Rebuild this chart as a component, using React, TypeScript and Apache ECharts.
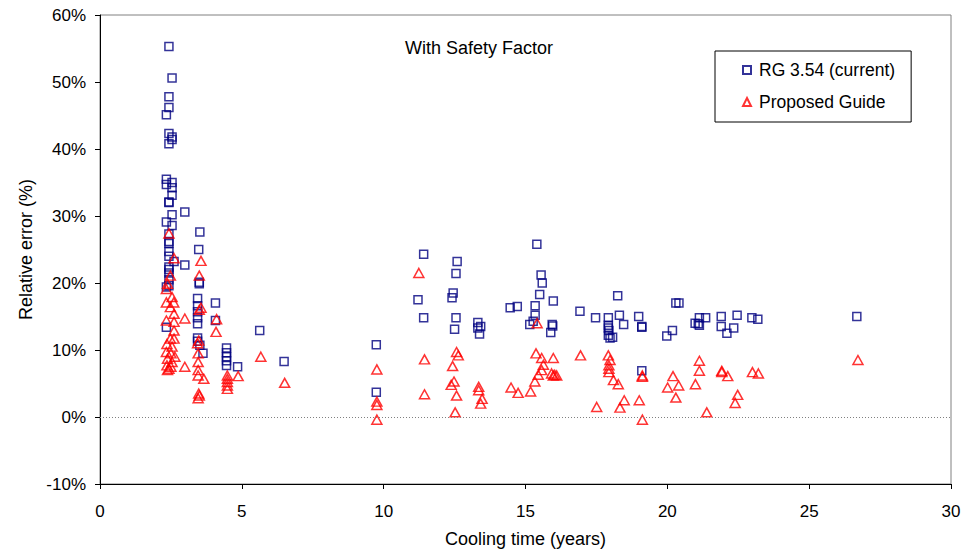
import React, { useEffect, useRef } from "react";
import * as echarts from "echarts";

const xTicks = [0, 5, 10, 15, 20, 25, 30];
const yTicks = [-10, 0, 10, 20, 30, 40, 50, 60];
const seriesNames = ["RG 3.54 (current)", "Proposed Guide"];
const chartTitle = "With Safety Factor";

const rgCurrent: [number, number][] = [
  [2.43, 55.3], [2.54, 50.6], [2.43, 47.8], [2.43, 46.2], [2.34, 45.1], [2.43, 42.3],
  [2.54, 41.8], [2.54, 41.4], [2.43, 40.8], [2.34, 35.5], [2.34, 34.7], [2.54, 35.0],
  [2.54, 34.2], [2.54, 33.1], [2.43, 32.1], [2.43, 32.0], [2.99, 30.6], [2.54, 30.2],
  [2.34, 29.1], [2.54, 28.6], [3.52, 27.6], [2.43, 27.3], [2.43, 26.2], [2.43, 25.9],
  [2.43, 24.7], [2.43, 24.0], [3.48, 25.0], [2.99, 22.7], [2.61, 23.2], [2.43, 22.4],
  [2.43, 22.0], [2.43, 21.5], [2.43, 20.5], [2.34, 19.4], [2.43, 19.6], [3.5, 20.1],
  [3.5, 19.9], [3.44, 17.7], [4.07, 17.0], [3.44, 16.6], [3.44, 15.7], [3.44, 14.8],
  [4.07, 14.4], [3.44, 13.9], [2.34, 13.4], [5.63, 12.9], [3.44, 11.8], [3.44, 11.3],
  [3.52, 10.7], [3.63, 9.5], [4.46, 10.3], [4.46, 9.6], [4.46, 9.0], [4.46, 8.4],
  [4.46, 7.7], [4.85, 7.5], [6.49, 8.3],
  [9.74, 10.8], [9.74, 3.7], [11.21, 17.5], [11.41, 24.3], [11.41, 14.8], [12.59, 23.2],
  [12.55, 21.4], [12.45, 18.5], [12.41, 17.8], [12.55, 14.8], [12.5, 13.1], [13.32, 14.1],
  [13.42, 13.5], [13.32, 13.3], [13.38, 12.4], [14.46, 16.3], [14.71, 16.5], [15.15, 13.8],
  [15.27, 14.3], [15.4, 25.8], [15.55, 21.2], [15.59, 20.0], [15.5, 18.3], [15.98, 17.3],
  [15.34, 16.6], [15.34, 15.2], [15.94, 13.8], [15.96, 13.6], [15.89, 12.6], [16.92, 15.8],
  [17.47, 14.8], [17.92, 14.8], [17.92, 13.7], [17.92, 13.3], [17.94, 12.9], [17.92, 12.2],
  [17.98, 11.8], [18.07, 11.9], [18.25, 18.1], [18.31, 15.2], [18.46, 13.8], [18.99, 15.0],
  [19.1, 13.5], [19.1, 13.4], [19.1, 6.9], [19.98, 12.1], [20.18, 12.9], [20.3, 17.0],
  [20.41, 17.0], [20.98, 14.0], [21.09, 13.9], [21.13, 14.8], [21.13, 13.7], [21.35, 14.8],
  [21.9, 15.0], [21.9, 13.5], [22.1, 12.5], [22.34, 13.3], [22.46, 15.2], [22.98, 14.8],
  [23.19, 14.6], [26.68, 15.0],
];

const proposedGuide: [number, number][] = [
  [2.43, 27.4], [2.61, 23.7], [2.48, 21.1], [2.38, 19.9], [2.34, 19.1], [2.54, 17.9],
  [2.34, 17.1], [2.6, 17.1], [2.48, 16.4], [2.61, 15.4], [2.34, 14.4], [2.61, 14.2],
  [2.61, 12.9], [2.48, 11.7], [2.61, 11.7], [2.36, 10.9], [2.54, 10.5], [2.34, 9.7],
  [2.5, 9.5], [2.64, 9.0], [2.38, 8.7], [2.54, 8.2], [2.36, 7.7], [2.43, 7.2],
  [2.38, 7.0], [2.5, 7.5],
  [2.99, 14.7], [2.99, 7.5],
  [3.56, 23.3], [3.5, 21.1], [3.56, 16.3], [3.5, 16.0], [3.48, 11.4], [3.44, 11.0],
  [3.46, 9.5], [3.46, 8.2], [3.46, 7.0], [3.46, 6.2], [3.66, 5.7], [3.48, 3.5],
  [3.46, 2.8], [3.5, 3.2],
  [4.11, 14.6], [4.09, 12.7],
  [4.49, 6.2], [4.49, 5.7], [4.49, 5.2], [4.49, 4.7], [4.49, 4.2],
  [4.87, 6.1], [5.67, 9.0], [6.51, 5.1],
  [9.76, 7.1], [9.76, 2.3], [9.76, 1.8], [9.76, -0.4],
  [11.24, 21.5], [11.44, 8.6], [11.44, 3.4],
  [12.57, 9.7], [12.63, 9.2], [12.43, 7.6], [12.48, 5.3], [12.38, 4.8], [12.57, 3.2], [12.52, 0.7],
  [13.35, 4.5], [13.35, 4.0], [13.47, 2.7], [13.42, 2.0],
  [14.49, 4.4], [14.74, 3.6], [15.18, 3.8],
  [15.41, 14.0], [15.37, 9.5], [15.57, 8.8], [15.63, 7.8], [15.57, 7.0], [15.45, 6.3],
  [15.33, 5.3], [15.98, 8.8], [15.92, 6.5], [15.98, 6.2], [16.1, 6.2], [16.03, 6.3],
  [16.94, 9.2], [17.51, 1.5],
  [17.92, 9.2], [17.98, 8.5], [17.94, 7.7], [17.94, 7.2], [17.94, 6.7], [18.1, 5.5],
  [18.27, 4.9], [18.48, 2.5], [18.33, 1.4],
  [19.01, 2.5], [19.12, 6.2], [19.12, 6.0], [19.12, -0.4],
  [20.2, 6.1], [20.01, 4.4], [20.4, 4.7], [20.3, 2.9],
  [20.99, 4.9], [21.13, 8.4], [21.13, 6.9],
  [21.92, 6.9], [21.92, 6.7], [22.13, 6.1], [23.0, 6.7], [23.21, 6.5],
  [22.48, 3.3], [22.39, 2.1], [21.39, 0.7], [26.72, 8.5],
];

const FONT = "'Liberation Sans', Arial, sans-serif";

export default function App() {
  const ref = useRef<HTMLDivElement>(null);
  useEffect(() => {
    if (!ref.current) return;
    const chart = echarts.init(ref.current, undefined, { renderer: "svg" });
    chart.setOption({
      animation: false,
      backgroundColor: "#ffffff",
      textStyle: { fontFamily: FONT },
      title: {
        text: chartTitle,
        left: 474,
        top: 34,
        textAlign: "center",
        textStyle: { fontFamily: FONT, fontSize: 18, fontWeight: "normal", color: "#000" },
      },
      legend: {
        orient: "vertical",
        left: 715,
        top: 51,
        padding: [10, 16, 11, 27],
        itemGap: 14,
        itemWidth: 8,
        itemHeight: 8,
        borderColor: "#000",
        borderWidth: 1,
        textStyle: { fontFamily: FONT, fontSize: 17.5, color: "#000", padding: [0, 0, 0, 3] },
        data: [
          { name: seriesNames[0], icon: "rect" },
          { name: seriesNames[1], icon: "triangle" },
        ],
      },
      grid: {
        left: 100,
        right: 24,
        top: 15,
        bottom: 67,
        show: true,
        borderColor: "#808080",
        borderWidth: 1,
        backgroundColor: "transparent",
      },
      xAxis: {
        type: "value",
        min: xTicks[0],
        max: xTicks[xTicks.length - 1],
        interval: 5,
        name: "Cooling time (years)",
        nameLocation: "middle",
        nameGap: 46,
        nameTextStyle: { fontFamily: FONT, fontSize: 18, color: "#000" },
        axisLine: { show: true, onZero: false, lineStyle: { color: "#000", width: 1 } },
        axisTick: { show: true, inside: false, length: 5, lineStyle: { color: "#000" } },
        axisLabel: { fontFamily: FONT, fontSize: 17, color: "#000", margin: 19 },
        splitLine: { show: false },
      },
      yAxis: {
        type: "value",
        min: yTicks[0],
        max: yTicks[yTicks.length - 1],
        interval: 10,
        name: "Relative error (%)",
        nameLocation: "middle",
        nameRotate: 90,
        nameGap: 64,
        nameTextStyle: { fontFamily: FONT, fontSize: 18, color: "#000" },
        axisLine: { show: true, onZero: false, lineStyle: { color: "#000", width: 1 } },
        axisTick: { show: true, inside: false, length: 5, lineStyle: { color: "#000" } },
        axisLabel: { fontFamily: FONT, fontSize: 17, color: "#000", margin: 14, formatter: "{value}%" },
        splitLine: { show: false },
      },
      series: [
        {
          name: seriesNames[0],
          type: "scatter",
          symbol: "rect",
          symbolSize: 8,
          data: rgCurrent,
          itemStyle: { color: "rgba(0,0,0,0)", borderColor: "#000080", borderWidth: 1.5 },
          markLine: {
            silent: true,
            symbol: "none",
            label: { show: false },
            lineStyle: { color: "#808080", type: [1, 2], width: 1 },
            data: [{ yAxis: 0 }],
          },
        },
        {
          name: seriesNames[1],
          type: "scatter",
          symbol: "triangle",
          symbolSize: [10, 9],
          data: proposedGuide,
          itemStyle: { color: "rgba(0,0,0,0)", borderColor: "#ff0000", borderWidth: 1.5 },
        },
      ],
    });
    return () => chart.dispose();
  }, []);
  return (
    <div
      ref={ref}
      style={{ position: "fixed", left: 0, top: 0, width: 975, height: 553 }}
    />
  );
}
